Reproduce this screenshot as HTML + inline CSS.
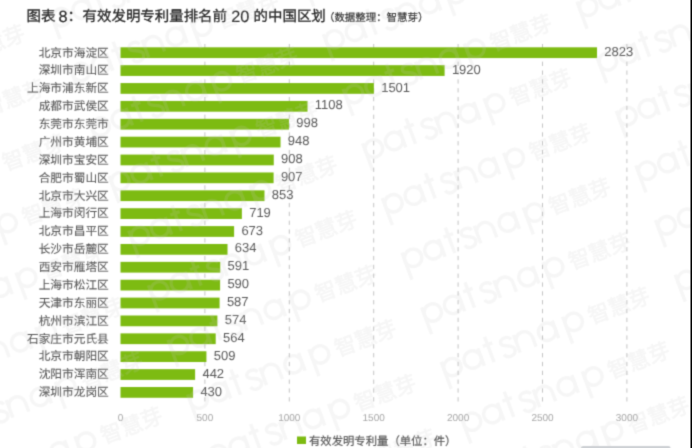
<!DOCTYPE html>
<html lang="zh-CN"><head><meta charset="utf-8">
<style>
html,body{margin:0;padding:0;background:#fff;}
body{width:692px;height:448px;overflow:hidden;position:relative;font-family:"Liberation Sans",sans-serif;}
svg{position:absolute;left:0;top:0;text-rendering:geometricPrecision;}
.cat{font-size:11.7px;fill:#595959;stroke:#595959;stroke-width:0.1px;}
.val{font-size:13px;fill:#595959;}
.ax{font-size:10px;fill:#a6a6a6;}
.title{font-size:14.45px;fill:#262626;stroke:#262626;stroke-width:0.3px;}
.tdig{font-size:16.3px;fill:#262626;stroke:#262626;stroke-width:0.15px;}
.sub{font-size:10.45px;fill:#333;stroke:#333;stroke-width:0.2px;}
.leg{font-size:11.35px;fill:#595959;stroke:#595959;stroke-width:0.2px;}

.wc{font-size:21.5px;fill:#c8c8c8;stroke:#c8c8c8;stroke-width:0.6px;}
</style></head><body>
<svg width="692" height="448" viewBox="0 0 692 448">
<defs><g id="pats" fill="none" stroke="#c8c8c8" stroke-width="3.4">
<circle cx="0" cy="-10" r="8.7"/><path d="M-8.7,-18.7V10"/>
<circle cx="21.6" cy="-10" r="8.7"/><path d="M30.3,-18.7V0"/>
<path d="M40.7,-27V0M35.7,-18.7H45.7"/>
<path d="M64.6,-15.6C63.6,-18.4 60.6,-19.2 58.6,-19.2C55.2,-19.2 53.2,-17.2 53.4,-14.6C53.8,-10.6 64.8,-10.8 64.8,-5C64.8,-1.8 62,0.4 58.8,0.4C55.8,0.4 53.6,-1.2 52.8,-3.6"/>
<path d="M68.5,-18.7V0M68.5,-10A8.5,8.5 0 0 1 85.5,-10V0"/>
<circle cx="101" cy="-10" r="8.7"/><path d="M109.7,-18.7V0"/>
<circle cx="129.5" cy="-10" r="8.7"/><path d="M120.8,-18.7V10"/>
</g><filter id="bl" x="-5%" y="-5%" width="110%" height="110%" color-interpolation-filters="sRGB"><feConvolveMatrix order="3" kernelMatrix="0.0256 0.109 0.0256 0.109 0.462 0.109 0.0256 0.109 0.0256" edgeMode="duplicate"/></filter></defs>
<g filter="url(#bl)"><rect x="0" y="0" width="692" height="448" fill="#fff"/>
<text x="26.5" y="21" class="title">图表</text>
<text x="58.5" y="21.5" class="tdig">8</text>
<text x="67.6" y="21" class="title">：</text>
<text x="82.6" y="21" class="title">有效发明专利量排名前</text>
<text x="231.3" y="21.5" class="tdig">20</text>
<text x="253.6" y="21" class="title">的中国区划</text>
<text x="324" y="20.5" class="sub">（数据整理：智慧芽）</text>
<line x1="204.90" y1="44" x2="204.90" y2="401.6" stroke="#c4c4c4" stroke-width="1" stroke-dasharray="4.3 4.53"/>
<line x1="289.30" y1="44" x2="289.30" y2="401.6" stroke="#c4c4c4" stroke-width="1" stroke-dasharray="4.3 4.53"/>
<line x1="373.70" y1="44" x2="373.70" y2="401.6" stroke="#c4c4c4" stroke-width="1" stroke-dasharray="4.3 4.53"/>
<line x1="458.10" y1="44" x2="458.10" y2="401.6" stroke="#c4c4c4" stroke-width="1" stroke-dasharray="4.3 4.53"/>
<line x1="542.50" y1="44" x2="542.50" y2="401.6" stroke="#c4c4c4" stroke-width="1" stroke-dasharray="4.3 4.53"/>
<line x1="626.90" y1="44" x2="626.90" y2="401.6" stroke="#c4c4c4" stroke-width="1" stroke-dasharray="4.3 4.53"/>
<rect x="120.5" y="47.30" width="476.52" height="10.75" fill="#7dbb12"/>
<text x="108.8" y="56.50" class="cat" text-anchor="end">北京市海淀区</text>
<text x="604.32" y="55.80" class="val">2823</text>
<rect x="120.5" y="65.18" width="324.10" height="10.75" fill="#7dbb12"/>
<text x="108.8" y="74.38" class="cat" text-anchor="end">深圳市南山区</text>
<text x="451.90" y="73.68" class="val">1920</text>
<rect x="120.5" y="83.06" width="253.37" height="10.75" fill="#7dbb12"/>
<text x="108.8" y="92.26" class="cat" text-anchor="end">上海市浦东新区</text>
<text x="381.17" y="91.56" class="val">1501</text>
<rect x="120.5" y="100.94" width="187.03" height="10.75" fill="#7dbb12"/>
<text x="108.8" y="110.14" class="cat" text-anchor="end">成都市武侯区</text>
<text x="314.83" y="109.44" class="val">1108</text>
<rect x="120.5" y="118.82" width="168.46" height="10.75" fill="#7dbb12"/>
<text x="108.8" y="128.02" class="cat" text-anchor="end">东莞市东莞市</text>
<text x="296.26" y="127.32" class="val">998</text>
<rect x="120.5" y="136.70" width="160.02" height="10.75" fill="#7dbb12"/>
<text x="108.8" y="145.90" class="cat" text-anchor="end">广州市黄埔区</text>
<text x="287.82" y="145.20" class="val">948</text>
<rect x="120.5" y="154.58" width="153.27" height="10.75" fill="#7dbb12"/>
<text x="108.8" y="163.78" class="cat" text-anchor="end">深圳市宝安区</text>
<text x="281.07" y="163.08" class="val">908</text>
<rect x="120.5" y="172.46" width="153.10" height="10.75" fill="#7dbb12"/>
<text x="108.8" y="181.66" class="cat" text-anchor="end">合肥市蜀山区</text>
<text x="280.90" y="180.96" class="val">907</text>
<rect x="120.5" y="190.34" width="143.99" height="10.75" fill="#7dbb12"/>
<text x="108.8" y="199.54" class="cat" text-anchor="end">北京市大兴区</text>
<text x="271.79" y="198.84" class="val">853</text>
<rect x="120.5" y="208.22" width="121.37" height="10.75" fill="#7dbb12"/>
<text x="108.8" y="217.42" class="cat" text-anchor="end">上海市闵行区</text>
<text x="249.17" y="216.72" class="val">719</text>
<rect x="120.5" y="226.10" width="113.60" height="10.75" fill="#7dbb12"/>
<text x="108.8" y="235.30" class="cat" text-anchor="end">北京市昌平区</text>
<text x="241.40" y="234.60" class="val">673</text>
<rect x="120.5" y="243.98" width="107.02" height="10.75" fill="#7dbb12"/>
<text x="108.8" y="253.18" class="cat" text-anchor="end">长沙市岳麓区</text>
<text x="234.82" y="252.48" class="val">634</text>
<rect x="120.5" y="261.86" width="99.76" height="10.75" fill="#7dbb12"/>
<text x="108.8" y="271.06" class="cat" text-anchor="end">西安市雁塔区</text>
<text x="227.56" y="270.36" class="val">591</text>
<rect x="120.5" y="279.74" width="99.59" height="10.75" fill="#7dbb12"/>
<text x="108.8" y="288.94" class="cat" text-anchor="end">上海市松江区</text>
<text x="227.39" y="288.24" class="val">590</text>
<rect x="120.5" y="297.62" width="99.09" height="10.75" fill="#7dbb12"/>
<text x="108.8" y="306.82" class="cat" text-anchor="end">天津市东丽区</text>
<text x="226.89" y="306.12" class="val">587</text>
<rect x="120.5" y="315.50" width="96.89" height="10.75" fill="#7dbb12"/>
<text x="108.8" y="324.70" class="cat" text-anchor="end">杭州市滨江区</text>
<text x="224.69" y="324.00" class="val">574</text>
<rect x="120.5" y="333.38" width="95.20" height="10.75" fill="#7dbb12"/>
<text x="108.8" y="342.58" class="cat" text-anchor="end">石家庄市元氏县</text>
<text x="223.00" y="341.88" class="val">564</text>
<rect x="120.5" y="351.26" width="85.92" height="10.75" fill="#7dbb12"/>
<text x="108.8" y="360.46" class="cat" text-anchor="end">北京市朝阳区</text>
<text x="213.72" y="359.76" class="val">509</text>
<rect x="120.5" y="369.14" width="74.61" height="10.75" fill="#7dbb12"/>
<text x="108.8" y="378.34" class="cat" text-anchor="end">沈阳市浑南区</text>
<text x="202.41" y="377.64" class="val">442</text>
<rect x="120.5" y="387.02" width="72.58" height="10.75" fill="#7dbb12"/>
<text x="108.8" y="396.22" class="cat" text-anchor="end">深圳市龙岗区</text>
<text x="200.38" y="395.52" class="val">430</text>
<text x="120.50" y="421" class="ax" text-anchor="middle">0</text>
<text x="204.90" y="421" class="ax" text-anchor="middle">500</text>
<text x="289.30" y="421" class="ax" text-anchor="middle">1000</text>
<text x="373.70" y="421" class="ax" text-anchor="middle">1500</text>
<text x="458.10" y="421" class="ax" text-anchor="middle">2000</text>
<text x="542.50" y="421" class="ax" text-anchor="middle">2500</text>
<text x="626.90" y="421" class="ax" text-anchor="middle">3000</text>
<rect x="297" y="436.5" width="9" height="7.5" fill="#7dbb12"/>
<text x="309" y="444.5" class="leg">有效发明专利量（单位：件）</text>
<g opacity="0.17"><g transform="translate(-228.09,-50.03) rotate(-20.44)"><use href="#pats"/><text class="wc" x="145.35" y="-1.5">智慧芽</text></g>
<g transform="translate(-208.45,4.59) rotate(-20.44)"><use href="#pats"/><text class="wc" x="145.35" y="-1.5">智慧芽</text></g>
<g transform="translate(-188.81,59.21) rotate(-20.44)"><use href="#pats"/><text class="wc" x="145.35" y="-1.5">智慧芽</text></g>
<g transform="translate(45.17,-27.97) rotate(-20.44)"><use href="#pats"/><text class="wc" x="145.35" y="-1.5">智慧芽</text></g>
<g transform="translate(-169.17,113.83) rotate(-20.44)"><use href="#pats"/><text class="wc" x="145.35" y="-1.5">智慧芽</text></g>
<g transform="translate(64.81,26.65) rotate(-20.44)"><use href="#pats"/><text class="wc" x="145.35" y="-1.5">智慧芽</text></g>
<g transform="translate(-149.53,168.45) rotate(-20.44)"><use href="#pats"/><text class="wc" x="145.35" y="-1.5">智慧芽</text></g>
<g transform="translate(84.45,81.27) rotate(-20.44)"><use href="#pats"/><text class="wc" x="145.35" y="-1.5">智慧芽</text></g>
<g transform="translate(318.43,-5.91) rotate(-20.44)"><use href="#pats"/><text class="wc" x="145.35" y="-1.5">智慧芽</text></g>
<g transform="translate(-129.89,223.07) rotate(-20.44)"><use href="#pats"/><text class="wc" x="145.35" y="-1.5">智慧芽</text></g>
<g transform="translate(104.09,135.89) rotate(-20.44)"><use href="#pats"/><text class="wc" x="145.35" y="-1.5">智慧芽</text></g>
<g transform="translate(338.07,48.71) rotate(-20.44)"><use href="#pats"/><text class="wc" x="145.35" y="-1.5">智慧芽</text></g>
<g transform="translate(572.05,-38.47) rotate(-20.44)"><use href="#pats"/><text class="wc" x="145.35" y="-1.5">智慧芽</text></g>
<g transform="translate(-110.25,277.69) rotate(-20.44)"><use href="#pats"/><text class="wc" x="145.35" y="-1.5">智慧芽</text></g>
<g transform="translate(123.73,190.51) rotate(-20.44)"><use href="#pats"/><text class="wc" x="145.35" y="-1.5">智慧芽</text></g>
<g transform="translate(357.71,103.33) rotate(-20.44)"><use href="#pats"/><text class="wc" x="145.35" y="-1.5">智慧芽</text></g>
<g transform="translate(591.69,16.15) rotate(-20.44)"><use href="#pats"/><text class="wc" x="145.35" y="-1.5">智慧芽</text></g>
<g transform="translate(-90.61,332.31) rotate(-20.44)"><use href="#pats"/><text class="wc" x="145.35" y="-1.5">智慧芽</text></g>
<g transform="translate(143.37,245.13) rotate(-20.44)"><use href="#pats"/><text class="wc" x="145.35" y="-1.5">智慧芽</text></g>
<g transform="translate(377.35,157.95) rotate(-20.44)"><use href="#pats"/><text class="wc" x="145.35" y="-1.5">智慧芽</text></g>
<g transform="translate(611.33,70.77) rotate(-20.44)"><use href="#pats"/><text class="wc" x="145.35" y="-1.5">智慧芽</text></g>
<g transform="translate(-70.97,386.93) rotate(-20.44)"><use href="#pats"/><text class="wc" x="145.35" y="-1.5">智慧芽</text></g>
<g transform="translate(163.01,299.75) rotate(-20.44)"><use href="#pats"/><text class="wc" x="145.35" y="-1.5">智慧芽</text></g>
<g transform="translate(396.99,212.57) rotate(-20.44)"><use href="#pats"/><text class="wc" x="145.35" y="-1.5">智慧芽</text></g>
<g transform="translate(630.97,125.39) rotate(-20.44)"><use href="#pats"/><text class="wc" x="145.35" y="-1.5">智慧芽</text></g>
<g transform="translate(-285.31,528.73) rotate(-20.44)"><use href="#pats"/><text class="wc" x="145.35" y="-1.5">智慧芽</text></g>
<g transform="translate(-51.33,441.55) rotate(-20.44)"><use href="#pats"/><text class="wc" x="145.35" y="-1.5">智慧芽</text></g>
<g transform="translate(182.65,354.37) rotate(-20.44)"><use href="#pats"/><text class="wc" x="145.35" y="-1.5">智慧芽</text></g>
<g transform="translate(416.63,267.19) rotate(-20.44)"><use href="#pats"/><text class="wc" x="145.35" y="-1.5">智慧芽</text></g>
<g transform="translate(650.61,180.01) rotate(-20.44)"><use href="#pats"/><text class="wc" x="145.35" y="-1.5">智慧芽</text></g>
<g transform="translate(-31.69,496.17) rotate(-20.44)"><use href="#pats"/><text class="wc" x="145.35" y="-1.5">智慧芽</text></g>
<g transform="translate(202.29,408.99) rotate(-20.44)"><use href="#pats"/><text class="wc" x="145.35" y="-1.5">智慧芽</text></g>
<g transform="translate(436.27,321.81) rotate(-20.44)"><use href="#pats"/><text class="wc" x="145.35" y="-1.5">智慧芽</text></g>
<g transform="translate(670.25,234.63) rotate(-20.44)"><use href="#pats"/><text class="wc" x="145.35" y="-1.5">智慧芽</text></g>
<g transform="translate(-12.05,550.79) rotate(-20.44)"><use href="#pats"/><text class="wc" x="145.35" y="-1.5">智慧芽</text></g>
<g transform="translate(221.93,463.61) rotate(-20.44)"><use href="#pats"/><text class="wc" x="145.35" y="-1.5">智慧芽</text></g>
<g transform="translate(455.91,376.43) rotate(-20.44)"><use href="#pats"/><text class="wc" x="145.35" y="-1.5">智慧芽</text></g>
<g transform="translate(689.89,289.25) rotate(-20.44)"><use href="#pats"/><text class="wc" x="145.35" y="-1.5">智慧芽</text></g>
<g transform="translate(241.57,518.23) rotate(-20.44)"><use href="#pats"/><text class="wc" x="145.35" y="-1.5">智慧芽</text></g>
<g transform="translate(475.55,431.05) rotate(-20.44)"><use href="#pats"/><text class="wc" x="145.35" y="-1.5">智慧芽</text></g>
<g transform="translate(709.53,343.87) rotate(-20.44)"><use href="#pats"/><text class="wc" x="145.35" y="-1.5">智慧芽</text></g>
<g transform="translate(495.19,485.67) rotate(-20.44)"><use href="#pats"/><text class="wc" x="145.35" y="-1.5">智慧芽</text></g>
<g transform="translate(729.17,398.49) rotate(-20.44)"><use href="#pats"/><text class="wc" x="145.35" y="-1.5">智慧芽</text></g>
<g transform="translate(514.83,540.29) rotate(-20.44)"><use href="#pats"/><text class="wc" x="145.35" y="-1.5">智慧芽</text></g>
<g transform="translate(748.81,453.11) rotate(-20.44)"><use href="#pats"/><text class="wc" x="145.35" y="-1.5">智慧芽</text></g>
<g transform="translate(768.45,507.73) rotate(-20.44)"><use href="#pats"/><text class="wc" x="145.35" y="-1.5">智慧芽</text></g></g>
<rect x="581" y="446" width="89.6" height="5" rx="2.2" fill="#cdd0d4"/>
</g>
<rect x="690.5" y="0" width="1.5" height="448" fill="#000"/>
</svg>
</body></html>
